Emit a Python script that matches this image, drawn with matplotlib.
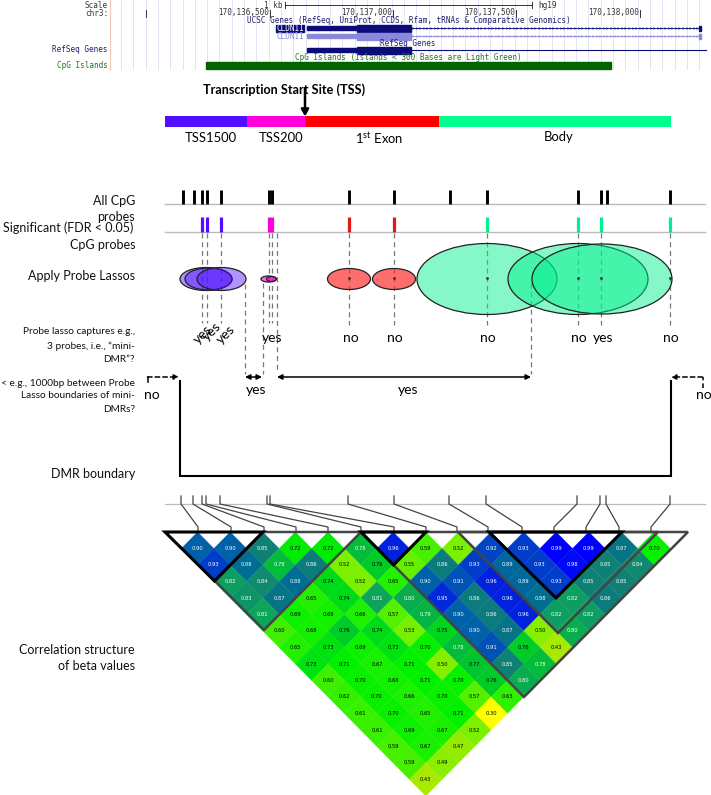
import numpy as np
import matplotlib
matplotlib.use("Agg")
import matplotlib.pyplot as plt
from matplotlib.patches import Ellipse, Rectangle, Polygon
from matplotlib.colors import LinearSegmentedColormap, to_rgba
from matplotlib.collections import PolyCollection

plt.rcParams["mathtext.fontset"] = "custom"
plt.rcParams["mathtext.rm"] = "Lato"

# ---- data ----
all_probes = [183, 194, 202, 207, 221, 268.5, 271.5, 349, 394, 450, 487, 578, 601, 607, 670]
sig_blue = [202, 207, 221]
sig_magenta = [268.5, 271.5]
sig_red = [349, 394]
sig_green = [487, 578, 601, 670]
connector_top = [181, 193, 202, 206, 220, 267, 270, 348, 394, 449, 486, 577, 600, 606, 670]
connector_bottom = [198, 231, 264, 296, 328, 361, 394, 426, 457, 488, 522, 554, 586, 619, 651]
regions = ["TSS1500", "TSS200", "1$^{\\mathrm{st}}$ Exon", "Body"]
region_edges = [165, 247, 305, 439, 671]
region_colors = ["#5010FF", "#FF00DC", "#FF0000", "#00FF8C"]

corr_rows = [
    [.90, .90, .85, .72, .72, .78, .96, .59, .52, .92, .93, .99, .99, .87, .70],
    [.93, .88, .78, .86, .52, .76, .55, .86, .93, .89, .93, .98, .85, .84],
    [.82, .84, .88, .74, .52, .65, .90, .91, .96, .89, .93, .85, .85],
    [.83, .87, .65, .74, .81, .80, .95, .86, .96, .88, .82, .86],
    [.81, .69, .68, .66, .57, .79, .90, .86, .96, .82, .82],
    [.60, .68, .76, .74, .53, .75, .90, .87, .50, .80],
    [.65, .73, .69, .73, .70, .78, .91, .76, .43],
    [.73, .71, .67, .71, .50, .77, .85, .78],
    [.60, .70, .68, .71, .70, .76, .80],
    [.62, .70, .66, .70, .57, .63],
    [.61, .70, .65, .71, .30],
    [.61, .69, .67, .52],
    [.59, .67, .47],
    [.59, .49],
    [.43],
]

chr_ticks = [270, 393, 516, 640]
chr_labels = ["170,136,500", "170,137,000", "170,137,500", "170,138,000"]

# ---- figure ----
fig = plt.figure(figsize=(7.11, 7.95), dpi=100)
ax = fig.add_axes([0, 0, 1, 1])
ax.set_xlim(0, 711)
ax.set_ylim(795, 0)
ax.axis("off")
SANS = "Lato"
MONO = "DejaVu Sans Mono"

# ---- browser header ----
for x in np.arange(121, 707, 12.3):
    ax.plot([x, x], [0, 69], color="#E4E4F6", lw=0.7, zorder=0)
ax.plot([110, 110], [0, 70], color="#F2C8B8", lw=0.8)
ax.plot([145.5, 145.5], [10, 17], color="#333333", lw=0.7)
for x, lab in zip(chr_ticks, chr_labels):
    ax.plot([x, x], [10, 17], color="#333333", lw=0.7)
    ax.text(x - 1, 12.5, lab, ha="right", va="center", family=MONO, fontsize=5.5, color="#333333")
ax.text(108, 5, "Scale", ha="right", va="center", family=MONO, fontsize=5.5, color="#333333")
ax.text(108, 13, "chr3:", ha="right", va="center", family=MONO, fontsize=5.5, color="#333333")
ax.text(283, 5, "1 kb", ha="right", va="center", family=MONO, fontsize=5.5, color="#333333")
ax.text(538, 5, "hg19", ha="left", va="center", family=MONO, fontsize=5.5, color="#333333")
ax.plot([285, 532], [5, 5], color="#333333", lw=0.7)
ax.plot([285, 285], [2, 8], color="#333333", lw=0.7)
ax.plot([532, 532], [2, 8], color="#333333", lw=0.7)
ax.text(409, 20.3, "UCSC Genes (RefSeq, UniProt, CCDS, Rfam, tRNAs & Comparative Genomics)",
        ha="center", va="center", family=MONO, fontsize=5.5, color="#20206A")
ax.add_patch(Rectangle((276, 24.5), 28, 7, color="#0C0C78"))
ax.text(290, 28.5, "CLDN11", ha="center", va="center", family=MONO, fontsize=5.5, color="white")
ax.text(290, 36.5, "CLDN11", ha="center", va="center", family=MONO, fontsize=5.5, color="#8888DD")
for y, c in [(28, "#0C0C78"), (36, "#8888DD")]:
    ax.add_patch(Rectangle((307, y - 2), 50, 4, color=c))
    ax.add_patch(Rectangle((357, y - 3.5), 54, 7, color=c))
    ax.plot([411, 700], [y, y], color=c, lw=0.6)
    ax.plot(np.arange(413, 700, 3.6), [y] * len(np.arange(413, 700, 3.6)), ls="none",
            marker="4", ms=2.5, mew=0.4, color=c)
    ax.add_patch(Rectangle((699, y - 2.5), 2, 5, color=c))
ax.text(408, 43, "RefSeq Genes", ha="center", va="center", family=MONO, fontsize=5.5, color="#20206A")
ax.text(108, 50, "RefSeq Genes", ha="right", va="center", family=MONO, fontsize=5.5, color="#20206A")
ax.add_patch(Rectangle((307, 48), 50, 4, color="#0C0C78"))
ax.add_patch(Rectangle((357, 46.5), 54, 7, color="#0C0C78"))
ax.plot([411, 706], [50, 50], color="#0C0C78", lw=0.8)
ax.text(408, 58, "CpG Islands (Islands < 300 Bases are Light Green)", ha="center", va="center",
        family=MONO, fontsize=5.5, color="#1E7A1E")
ax.text(108, 65, "CpG Islands", ha="right", va="center", family=MONO, fontsize=5.5, color="#1E7A1E")
ax.add_patch(Rectangle((205.5, 61.5), 405.5, 7.5, color="#006400"))

# ---- gene regions ----
ax.text(284, 90, "Transcription Start Site (TSS)", ha="center", va="center", family=SANS,
        fontsize=9.1, fontweight="bold", color="black")
labx = [211, 281, 379, 559]
laby = [138.5, 138.5, 138.5, 137]
for i, lab in enumerate(regions):
    l, r = region_edges[i], region_edges[i + 1]
    ax.add_patch(Rectangle((l, 116), r - l, 11, color=region_colors[i], lw=0))
    ax.text(labx[i], laby[i], lab, ha="center", va="center", family=SANS, fontsize=9.4)
ax.annotate("", xy=(305, 116.5), xytext=(305, 88),
            arrowprops=dict(arrowstyle="-|>,head_width=0.22,head_length=0.4", lw=1.8, color="black",
                            shrinkA=0, shrinkB=0))

# ---- probe tracks ----
ax.plot([165, 705], [204, 204], color="#BBBBBB", lw=1)
ax.plot([165, 705], [232, 232], color="#BBBBBB", lw=1)
for x in all_probes:
    ax.plot([x, x], [190, 204], color="black", lw=2.1, solid_capstyle="butt")
for xs, c in [(sig_blue, "#5010FF"), (sig_magenta, "#FF00DC"), (sig_red, "#E01818"), (sig_green, "#00F08C")]:
    for x in xs:
        ax.plot([x, x], [217, 232], color=c, lw=2.3, solid_capstyle="butt")

# ---- dashed guides ----
dash = dict(color="#777777", lw=0.9, ls=(0, (4, 3)), zorder=1)
for x in sig_blue + sig_magenta:
    ax.plot([x, x], [233, 323], **dash)
for x in sig_red + sig_green:
    ax.plot([x, x], [233, 325], **dash)
ax.plot([245, 245], [284, 374], **dash)
ax.plot([262.5, 262.5], [283, 374], **dash)
ax.plot([277, 277], [233, 373], **dash)
ax.plot([531, 531], [283, 374], **dash)

# ---- lassos ----
lasso = [
    (206, 279, 52, 23, "#5010FF", 0.45), (208.5, 279, 47, 22, "#5010FF", 0.45), (221.5, 279, 49, 23, "#5010FF", 0.45),
    (268.5, 279, 15, 6, "#FF00DC", 0.6), (271.5, 279, 10, 5, "#FF00DC", 0.6),
    (349, 279, 43, 21, "#FF3030", 0.7), (394, 279, 43, 21, "#FF3030", 0.7),
    (487, 279, 140, 71, "#00F08C", 0.48), (578, 279, 140, 71, "#00F08C", 0.48), (602, 279, 140, 70, "#00F08C", 0.48),
]
for cx, cy, w, h, c, a in lasso:
    ax.add_patch(Ellipse((cx, cy), w, h, facecolor=to_rgba(c, a),
                         edgecolor="#222222", lw=0.9, zorder=2))
for x in all_probes:
    if x in sig_red + sig_green:
        ax.plot([x], [278], marker=".", ms=2, color="#333333", zorder=3)

# ---- answers ----
for x, y in [(203, 335), (212, 332), (226, 335)]:
    ax.text(x, y, "yes", rotation=45, ha="center", va="center", family=SANS, fontsize=10)
ax.text(272, 338, "yes", ha="center", va="center", family=SANS, fontsize=10)
for x in [351, 395, 488, 579, 671]:
    ax.text(x, 338, "no", ha="center", va="center", family=SANS, fontsize=10)
ax.text(603, 338, "yes", ha="center", va="center", family=SANS, fontsize=10)
ax.text(256, 390, "yes", ha="center", va="center", family=SANS, fontsize=10)
ax.text(408, 390, "yes", ha="center", va="center", family=SANS, fontsize=10)
ax.text(152, 395, "no", ha="center", va="center", family=SANS, fontsize=10)
ax.text(704, 395, "no", ha="center", va="center", family=SANS, fontsize=10)

ap2 = dict(arrowstyle="<|-|>,head_width=0.15,head_length=0.3", lw=1.1, color="black", shrinkA=0, shrinkB=0)
ax.annotate("", xy=(262, 377), xytext=(245, 377), arrowprops=ap2)
ax.annotate("", xy=(531, 377), xytext=(277, 377), arrowprops=ap2)
ap1 = dict(arrowstyle="-|>,head_width=0.15,head_length=0.3", lw=1.1, color="black", ls=(0, (3, 2)),
           shrinkA=0, shrinkB=0)
ax.plot([147.5, 147.5], [382, 377], color="black", lw=1.1)
ax.annotate("", xy=(179, 377), xytext=(147.5, 377), arrowprops=ap1)
ax.plot([702.5, 702.5], [388, 377], color="black", lw=1.1, ls=(0, (3, 2)))
ax.annotate("", xy=(671, 377), xytext=(702.5, 377), arrowprops=ap1)

# ---- DMR boundary ----
ax.plot([180, 180, 671, 671], [381, 476, 476, 381], color="black", lw=1.5, solid_joinstyle="miter")

# ---- connectors ----
ax.plot([165, 705], [504, 504], color="#BBBBBB", lw=0.9)
for t, b in zip(connector_top, connector_bottom):
    ax.plot([t, t, b, b], [496, 504, 527, 531], color="#444444", lw=0.9)

# ---- left labels ----
left = [(135, 201, "All CpG"), (135, 217, "probes"), (133, 228, "Significant (FDR < 0.05)"),
        (135, 245, "CpG probes"), (135, 276, "Apply Probe Lassos"), (135, 474, "DMR boundary"),
        (135, 650, "Correlation structure"), (135, 666, "of beta values")]
for x, y, s in left:
    ax.text(x, y, s, ha="right", va="center", family=SANS, fontsize=9.0, color="#111111")
small = [(135, 332, "Probe lasso captures e.g.,"), (135, 346, "3 probes, i.e., \u201cmini-"),
         (135, 359, "DMR\u201d?"), (135, 383, "< e.g., 1000bp between Probe"),
         (135, 396, "Lasso boundaries of mini-"), (135, 409, "DMRs?")]
for x, y, s in small:
    ax.text(x, y, s, ha="right", va="center", family=SANS, fontsize=7.3, color="#111111")

# ---- correlation heatmap ----
cmap = LinearSegmentedColormap.from_list("ld", [
    (0.0, "#FFFF00"), (0.18, "#AAE800"), (0.31, "#80F000"), (0.44, "#3CF000"), (0.60, "#00F000"),
    (0.69, "#00C034"), (0.75, "#0FA060"), (0.80, "#108074"), (0.84, "#006E90"), (0.87, "#0060A8"),
    (0.91, "#0040C8"), (0.96, "#0020E0"), (1.0, "#0000FF")])
X0, Y0, HW, HH = 165.0, 532.0, 16.3, 16.5
polys, cols = [], []
for r, row in enumerate(corr_rows, start=1):
    for i, v in enumerate(row):
        cx = X0 + HW * (2 * i + r + 1)
        cy = Y0 + HH * r
        polys.append([(cx - HW, cy), (cx, cy - HH), (cx + HW, cy), (cx, cy + HH)])
        cols.append(cmap((v - 0.30) / 0.69))
        ax.text(cx, cy, f"{v:.2f}", ha="center", va="center", family="DejaVu Sans", fontsize=3.7,
                color="white" if v >= 0.78 else "black", zorder=6)
ax.add_collection(PolyCollection(polys, facecolors=cols, edgecolors=cols, linewidths=0.2, zorder=4))

# block outlines
gray = "#444444"
for pts in [[(361, 532), (688, 532), (524, 697)],
            [(458, 532), (558, 633), (658, 532)],
            [(215, 581), (264, 630), (361, 532), (263, 532)]]:
    ax.add_patch(Polygon(pts, closed=True, fill=False, edgecolor=gray, lw=1.8, joinstyle="miter", zorder=7))
for pts in [[(165, 532), (263, 532), (214.5, 581)],
            [(361, 532), (426, 532), (393.5, 565)],
            [(489, 532), (622, 532), (556, 598)]]:
    ax.add_patch(Polygon(pts, closed=True, fill=False, edgecolor="black", lw=2.2, joinstyle="miter", zorder=8))

fig.savefig("out.png", dpi=100)
